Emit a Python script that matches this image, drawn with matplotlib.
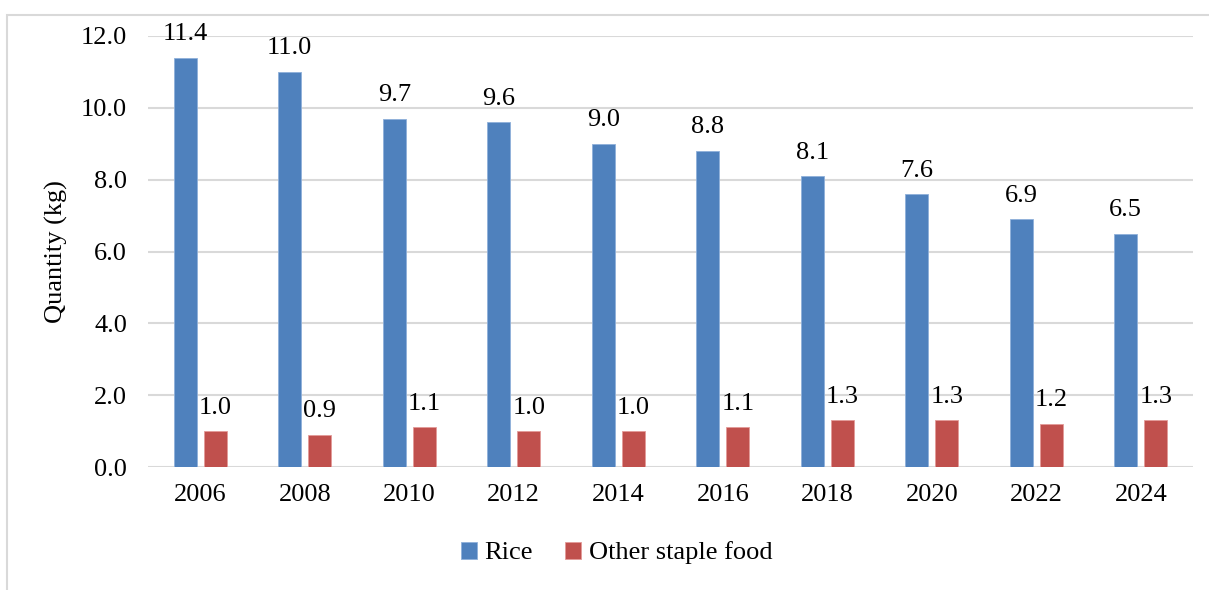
import numpy as np
import matplotlib.pyplot as plt
from matplotlib.patches import Rectangle

years = ['2006', '2008', '2010', '2012', '2014', '2016', '2018', '2020', '2022', '2024']
rice = [11.4, 11.0, 9.7, 9.6, 9.0, 8.8, 8.1, 7.6, 6.9, 6.5]
other = [1.0, 0.9, 1.1, 1.0, 1.0, 1.1, 1.3, 1.3, 1.2, 1.3]

plt.rcParams['font.family'] = ['Liberation Serif', 'DejaVu Serif']

blue = '#4F81BD'
red = '#C0504D'
fs = 19

fig = plt.figure(figsize=(12.09, 5.90), dpi=100)
ax = fig.add_axes([148 / 1209, 1 - 467 / 590, (1193 - 148) / 1209, (467 - 36) / 590])

# outer chart frame
fig.patches.append(Rectangle((7 / 1209, -0.1), 1.2, 1.1 - 15 / 590,
                             transform=fig.transFigure, fill=False,
                             edgecolor='#D9D9D9', linewidth=1.5))

x = np.arange(len(years))
w = 0.22
off = 0.144
b1 = ax.bar(x - off, rice, w, color=blue, edgecolor='#8FB0DA', linewidth=0.6,
            label='Rice', zorder=3)
b2 = ax.bar(x + off, other, w, color=red, edgecolor='#E39A98', linewidth=0.6,
            label='Other staple food', zorder=3)

for bars, vals in ((b1, rice), (b2, other)):
    for bar, v in zip(bars, vals):
        ax.annotate(f'{v:.1f}', (bar.get_x() + bar.get_width() / 2, v),
                    xytext=(0, 9), textcoords='offset points',
                    ha='center', va='bottom', fontsize=fs)

ax.set_xlim(-0.5, 9.5)
ax.set_ylim(0, 12)
ax.set_yticks(np.arange(0, 12.1, 2))
ax.set_yticklabels([f'{t:.1f}' for t in np.arange(0, 12.1, 2)])
ax.set_xticks(x)
ax.set_xticklabels(years)
ax.tick_params(length=0, labelsize=fs)
ax.tick_params(axis='y', pad=15)
ax.tick_params(axis='x', pad=12)
ax.grid(axis='y', color='#D9D9D9', linewidth=1.5, zorder=0)
for s in ax.spines.values():
    s.set_visible(False)
ax.set_ylabel('Quantity (kg)', fontsize=fs, labelpad=9)

fig.legend(handles=[b1, b2], loc='center', bbox_to_anchor=(0.51, 1 - 553 / 590),
           ncol=2, frameon=False, fontsize=fs, handlelength=0.6, handleheight=0.6,
           handletextpad=0.3, columnspacing=1.2)

fig.savefig('out.png', dpi=100)
